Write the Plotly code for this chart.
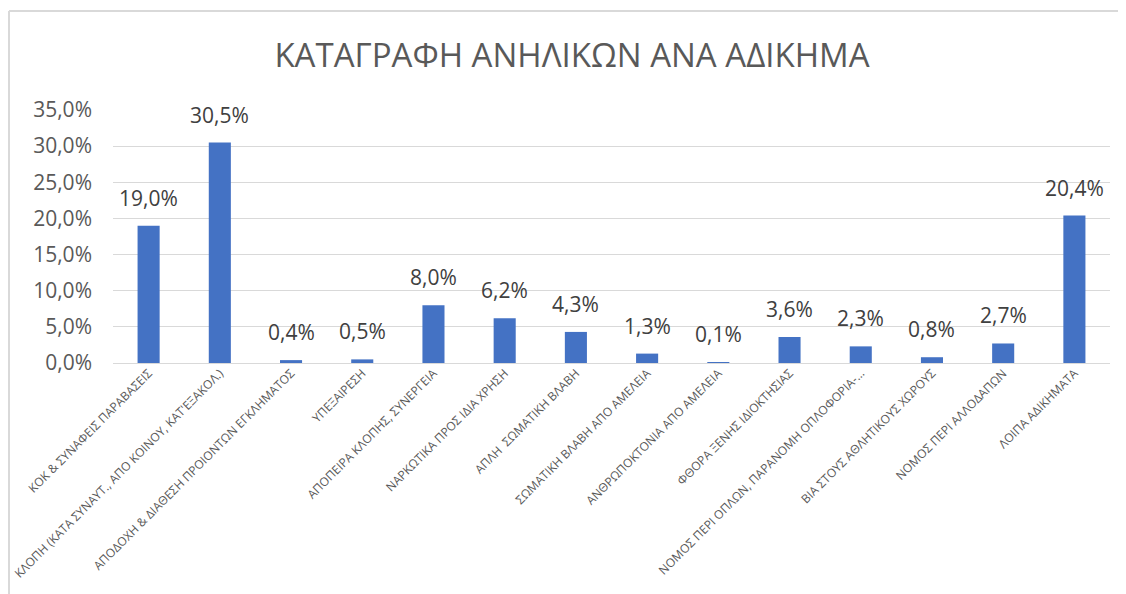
import plotly.graph_objects as go

categories = [
    "ΚΟΚ & ΣΥΝΑΦΕΙΣ ΠΑΡΑΒΑΣΕΙΣ",
    "ΚΛΟΠΗ (ΚΑΤΑ ΣΥΝΑΥΤ., ΑΠΟ ΚΟΙΝΟΥ, ΚΑΤ'ΕΞΑΚΟΛ.)",
    "ΑΠΟΔΟΧΗ & ΔΙΑΘΕΣΗ ΠΡΟΙΟΝΤΩΝ ΕΓΚΛΗΜΑΤΟΣ",
    "ΥΠΕΞΑΙΡΕΣΗ",
    "ΑΠΟΠΕΙΡΑ ΚΛΟΠΗΣ, ΣΥΝΕΡΓΕΙΑ",
    "ΝΑΡΚΩΤΙΚΑ ΠΡΟΣ ΙΔΙΑ ΧΡΗΣΗ",
    "ΑΠΛΗ  ΣΩΜΑΤΙΚΗ ΒΛΑΒΗ",
    "ΣΩΜΑΤΙΚΗ ΒΛΑΒΗ ΑΠΟ ΑΜΕΛΕΙΑ",
    "ΑΝΘΡΩΠΟΚΤΟΝΙΑ ΑΠΟ ΑΜΕΛΕΙΑ",
    "ΦΘΟΡΑ ΞΕΝΗΣ ΙΔΙΟΚΤΗΣΙΑΣ",
    "ΝΟΜΟΣ ΠΕΡΙ ΟΠΛΩΝ, ΠΑΡΑΝΟΜΗ ΟΠΛΟΦΟΡΙΑ-…",
    "ΒΙΑ ΣΤΟΥΣ ΑΘΛΗΤΙΚΟΥΣ ΧΩΡΟΥΣ",
    "ΝΟΜΟΣ ΠΕΡΙ ΑΛΛΟΔΑΠΩΝ",
    "ΛΟΙΠΑ ΑΔΙΚΗΜΑΤΑ",
]
values = [0.190, 0.305, 0.004, 0.005, 0.080, 0.062, 0.043, 0.013, 0.001, 0.036, 0.023, 0.008, 0.027, 0.204]
value_labels = ["19,0%", "30,5%", "0,4%", "0,5%", "8,0%", "6,2%", "4,3%", "1,3%", "0,1%", "3,6%", "2,3%", "0,8%", "2,7%", "20,4%"]

FONT = "Open Sans"
GREY = "#595959"

W, H = 1126, 594
L, R, T, B = 105, 24, 102, 239
PW, PH = W - L - R, H - T - B

fig = go.Figure(go.Bar(
    x=categories,
    y=values,
    marker=dict(color="#4472C4", line=dict(width=0)),
    width=0.31,
    hoverinfo="x+y",
))

annotations = [
    dict(x=c, y=v, xref="x", yref="y", text=t, showarrow=False,
         yanchor="bottom", yshift=12,
         font=dict(family=FONT, size=21, color="#404040"))
    for c, v, t in zip(categories, values, value_labels)
]

fig.update_layout(
    width=W,
    height=H,
    separators=", ",
    paper_bgcolor="white",
    plot_bgcolor="white",
    margin=dict(l=L, r=R, t=T, b=B, autoexpand=False),
    title=dict(
        text="ΚΑΤΑΓΡΑΦΗ ΑΝΗΛΙΚΩΝ ΑΝΑ ΑΔΙΚΗΜΑ",
        x=564 / W, xanchor="center",
        y=1 - 47 / H, yanchor="middle",
        font=dict(family=FONT, size=33, color=GREY),
    ),
    xaxis=dict(
        tickangle=-45,
        tickfont=dict(family=FONT, size=12, color=GREY),
        showgrid=False,
        showline=False,
        ticks="",
        automargin=False,
    ),
    yaxis=dict(
        range=[0, 0.35],
        dtick=0.05,
        tickformat=".1%",
        tickfont=dict(family=FONT, size=21, color=GREY),
        showgrid=True,
        gridcolor="#d9d9d9",
        gridwidth=1,
        zeroline=True,
        zerolinecolor="#d9d9d9",
        zerolinewidth=1,
        ticks="",
        ticklabelstandoff=20,
        automargin=False,
    ),
    showlegend=False,
    annotations=annotations,
    shapes=[
        dict(type="line", xref="paper", yref="paper",
             x0=(1 - L) / PW, x1=(W - L) / PW,
             y0=1 + (T - 3) / PH, y1=1 + (T - 3) / PH,
             line=dict(color="#d9d9d9", width=2)),
        dict(type="line", xref="paper", yref="paper",
             x0=(1 - L) / PW, x1=(1 - L) / PW,
             y0=1 + (T - 3) / PH, y1=-B / PH,
             line=dict(color="#d9d9d9", width=2)),
    ],
)

fig.write_html("out.html")
